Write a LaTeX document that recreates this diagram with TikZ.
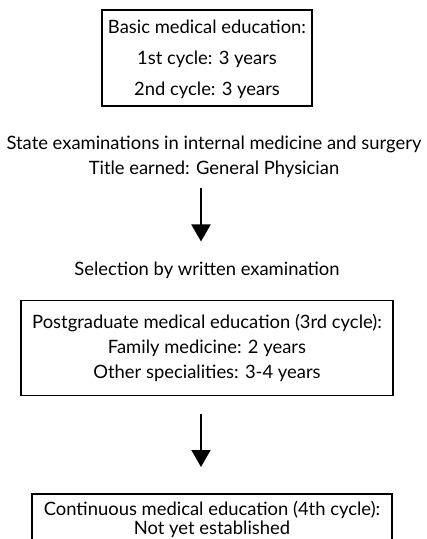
\documentclass[tikz,border=0pt]{standalone}
\usepackage{fontspec}
\setmainfont{Lato}
\usetikzlibrary{arrows.meta}

\tikzset{
  stagebox/.style={draw, line width=1.6pt, align=center, inner sep=0pt},
  flowarrow/.style={-{Triangle[width=19pt,length=17pt]}, line width=2pt},
}

\begin{document}
\begin{tikzpicture}[x=1pt,y=-1pt,font=\fontsize{18.4}{24}\selectfont]
  \useasboundingbox (0,0) rectangle (427,539);
  \clip (0,0) rectangle (427,539);
  %--- Basic education ---
  \node[stagebox,minimum width=210,minimum height=96,text depth=0pt] (basic) at (207,58) {
    Basic medical education:\\[7pt]
    1st cycle: 3 years\\[7pt]
    2nd cycle: 3 years
  };
  \node[align=center,inner sep=0pt] (exam) at (214,157) {
    State examinations in internal medicine and surgery\\[1pt]
    Title earned: General Physician
  };
  \node[inner sep=0pt] (select) at (207,270) {Selection by written examination};
  %--- Postgraduate education ---
  \node[stagebox,minimum width=372,minimum height=95] (postgrad) at (207,348) {
    Postgraduate medical education (3rd cycle):\\[1pt]
    Family medicine: 2 years\\[1pt]
    Other specialities: 3-4 years
  };
  %--- Continuous education (box runs past the bottom edge) ---
  \node[stagebox,anchor=north,minimum width=360,inner ysep=7pt,text depth=40pt] (contin) at (212,493) {
    Continuous medical education (4th cycle):\\[-5pt]
    Not yet established
  };
  % Arrows between the stages
  \coordinate (axis) at (201,0);
  \draw[flowarrow,shorten <=10pt,shorten >=20pt] (exam.south -| axis) -- (select.north -| axis);
  \draw[flowarrow,shorten <=18pt,shorten >=26pt] (postgrad.south -| axis) -- (contin.north -| axis);
\end{tikzpicture}
\end{document}
